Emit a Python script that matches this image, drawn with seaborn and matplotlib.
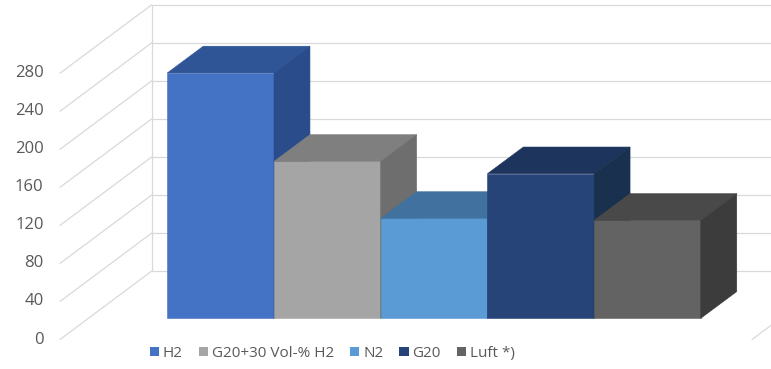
import matplotlib
matplotlib.use("Agg")
import matplotlib.pyplot as plt
import seaborn as sns
import pandas as pd
from matplotlib.patches import Polygon, Rectangle

# Gases and measured values
series = ["H2", "G20+30 Vol-% H2", "N2", "G20", "Luft *)"]
values = [258, 165, 105, 152, 103]
tick_values = [0, 40, 80, 120, 160, 200, 240, 280]

front_colors = ["#4472C4", "#A5A5A5", "#5B9BD5", "#264478", "#636363"]
top_colors = ["#2F5597", "#7F7F7F", "#41729F", "#1D355D", "#494949"]
side_colors = ["#2A4C8A", "#6E6E6E", "#3A6691", "#19304F", "#3C3C3C"]

# Oblique projection of the depth direction (x in category units, y in value units)
DX, DY = 0.337, 28.1            # depth of one bar
FRONT_X, FRONT_Y = -1.506, -22.3  # front edge of the floor / side wall
BACK_X, BACK_Y = -0.646, 49.7     # back wall
GRID = "#D9D9D9"
TEXT = "#595959"

sns.set_style("white")
plt.rcParams["font.family"] = ["Open Sans", "DejaVu Sans"]

fig = plt.figure(figsize=(7.71, 3.69), dpi=100)
ax = fig.add_axes([0, 0, 1, 1])

df = pd.DataFrame({"gas": series, "value": values})
sns.barplot(data=df, x="gas", y="value", hue="gas", palette=front_colors,
            width=1.0, dodge=False, saturation=1, linewidth=0,
            legend=True, ax=ax)

# the front faces of the columns, left to right
bars = sorted([p for p in ax.patches
               if isinstance(p, Rectangle) and p.get_width() > 0.5 and p.get_height() > 0],
              key=lambda p: p.get_x())

# Walls: back wall grid, side wall diagonals, value labels
for v in tick_values:
    ax.plot([BACK_X, 6.0], [v + BACK_Y, v + BACK_Y], color=GRID, lw=0.9, zorder=1)
    ax.plot([FRONT_X, BACK_X], [v + FRONT_Y, v + BACK_Y], color=GRID, lw=0.9, zorder=1)
    ax.text(-1.66, v + FRONT_Y, str(v), ha="right", va="center",
            color=TEXT, fontsize=12)
ax.plot([BACK_X, BACK_X], [BACK_Y, tick_values[-1] + BACK_Y], color=GRID, lw=0.9, zorder=1)
# right edge of the floor
floor_r = 4.98
ax.plot([floor_r, floor_r + (BACK_X - FRONT_X)], [FRONT_Y, BACK_Y],
        color=GRID, lw=0.9, zorder=1)

# Tops and sides of the columns, painted left to right
for i, p in enumerate(bars):
    x0, w, h = p.get_x(), p.get_width(), p.get_height()
    p.set_zorder(3 + 3 * i)
    p.set_edgecolor(front_colors[i])
    p.set_linewidth(0.4)
    top = Polygon([(x0, h), (x0 + DX, h + DY), (x0 + w + DX, h + DY), (x0 + w, h)],
                  closed=True, facecolor=top_colors[i], edgecolor=top_colors[i],
                  lw=0.4, zorder=4 + 3 * i)
    side = Polygon([(x0 + w, 0), (x0 + w + DX, DY), (x0 + w + DX, h + DY), (x0 + w, h)],
                   closed=True, facecolor=side_colors[i], edgecolor=side_colors[i],
                   lw=0.4, zorder=4 + 3 * i)
    ax.add_patch(top)
    ax.add_patch(side)

ax.set_xlim(-2.068, 5.158)
ax.set_ylim(-53.3, 334.7)
ax.axis("off")

sns.move_legend(ax, "center", bbox_to_anchor=(0.431, 0.042), ncol=5,
                frameon=False, title=None, handlelength=0.6, handleheight=0.6,
                handletextpad=0.25, columnspacing=1.05, fontsize=11)
for t in ax.get_legend().get_texts():
    t.set_color(TEXT)

fig.savefig("out.png", dpi=100, facecolor="white")
